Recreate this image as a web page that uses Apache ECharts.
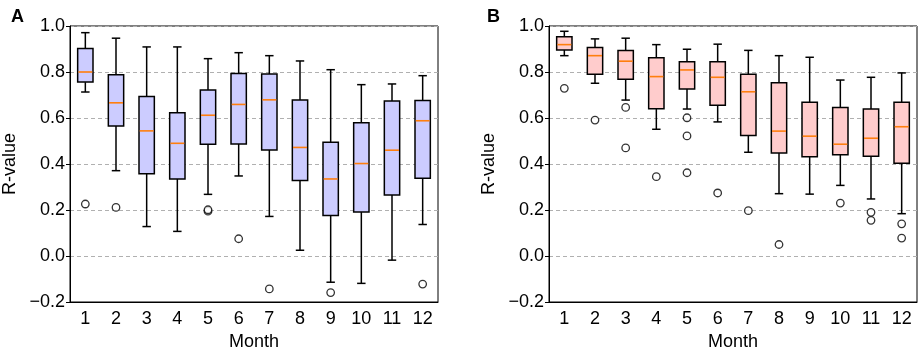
<!DOCTYPE html>
<html>
<head>
<meta charset="utf-8">
<script src="https://cdn.jsdelivr.net/npm/echarts@6/dist/echarts.min.js"></script>
<style>
  html, body { margin: 0; padding: 0; background: #fff; }
  #chart { width: 920px; height: 350px; }
</style>
</head>
<body>
<div id="chart"></div>
<script>
// months on the x axis
const months = ['1', '2', '3', '4', '5', '6', '7', '8', '9', '10', '11', '12'];
const yTicks = [-0.2, 0.0, 0.2, 0.4, 0.6, 0.8, 1.0];

// panel A: [low whisker, Q1, median, Q3, high whisker]
const statsA = [
  [0.713, 0.756, 0.800, 0.902, 0.971],
  [0.371, 0.565, 0.666, 0.788, 0.947],
  [0.128, 0.358, 0.544, 0.694, 0.909],
  [0.107, 0.335, 0.490, 0.623, 0.909],
  [0.268, 0.486, 0.612, 0.722, 0.858],
  [0.348, 0.487, 0.659, 0.793, 0.884],
  [0.172, 0.461, 0.679, 0.791, 0.871],
  [0.025, 0.328, 0.472, 0.678, 0.848],
  [-0.114, 0.176, 0.335, 0.495, 0.810],
  [-0.119, 0.191, 0.402, 0.579, 0.745],
  [-0.018, 0.265, 0.460, 0.674, 0.748],
  [0.137, 0.338, 0.588, 0.676, 0.784]
];
// [month index, value]
const outliersA = [
  [0, 0.226], [1, 0.211], [4, 0.195], [4, 0.201], [5, 0.075],
  [6, -0.143], [8, -0.159], [11, -0.122]
];

// panel B
const statsB = [
  [0.871, 0.896, 0.919, 0.953, 0.977],
  [0.751, 0.790, 0.871, 0.906, 0.944],
  [0.678, 0.768, 0.847, 0.893, 0.947],
  [0.551, 0.640, 0.780, 0.862, 0.919],
  [0.639, 0.726, 0.809, 0.845, 0.899],
  [0.583, 0.655, 0.777, 0.845, 0.921],
  [0.451, 0.524, 0.714, 0.790, 0.894],
  [0.271, 0.448, 0.543, 0.753, 0.871],
  [0.269, 0.431, 0.521, 0.669, 0.864],
  [0.307, 0.440, 0.486, 0.646, 0.765],
  [0.248, 0.434, 0.512, 0.639, 0.777],
  [0.184, 0.403, 0.562, 0.669, 0.796]
];
const outliersB = [
  [0, 0.729], [1, 0.591], [2, 0.646], [2, 0.470], [3, 0.345],
  [4, 0.601], [4, 0.522], [4, 0.362], [5, 0.274], [6, 0.197],
  [7, 0.050], [9, 0.230], [10, 0.190], [10, 0.155], [11, 0.140], [11, 0.078]
];

const FONT = 'Liberation Sans, Arial, sans-serif';
const chart = echarts.init(document.getElementById('chart'), null, { renderer: 'canvas' });

function makeGrid(left) {
  return {
    left: left, top: 26, width: 368, height: 276,
    containLabel: false, outerBoundsMode: 'none',
    show: true, borderColor: '#000', borderWidth: 1, backgroundColor: 'transparent'
  };
}

function makeXAxis(idx) {
  return {
    type: 'category', gridIndex: idx, data: months, boundaryGap: true,
    name: 'Month', nameLocation: 'middle', nameGap: 31,
    nameTextStyle: { color: '#000', fontSize: 18, fontFamily: FONT, verticalAlign: 'top' },
    axisLine: { onZero: false, lineStyle: { color: '#000', width: 1 } },
    axisTick: { alignWithLabel: true, length: 4, lineStyle: { color: '#000' } },
    axisLabel: { color: '#000', fontSize: 18, fontFamily: FONT, margin: 8 },
    splitLine: { show: false }
  };
}

function makeYAxis(idx) {
  return {
    type: 'value', gridIndex: idx, min: -0.2, max: 1.0, interval: 0.2,
    name: 'R-value', nameLocation: 'middle', nameGap: 51, nameRotate: 90,
    nameTextStyle: { color: '#000', fontSize: 18, fontFamily: FONT },
    axisLine: { show: true, onZero: false, lineStyle: { color: '#000', width: 1 } },
    axisTick: { show: true, length: 4, lineStyle: { color: '#000' } },
    axisLabel: {
      color: '#000', fontSize: 18, fontFamily: FONT, margin: 5,
      formatter: v => {
        const s = Math.abs(v).toFixed(1);
        return v < -1e-9 ? '\u2212' + s : s;
      }
    },
    splitLine: { show: true, lineStyle: { color: '#b0b0b0', type: [4, 3], width: 1 } }
  };
}

// box + whiskers + caps + median, matplotlib style
function boxSeries(idx, stats, fill) {
  return {
    type: 'custom', xAxisIndex: idx, yAxisIndex: idx,
    data: stats.map((s, i) => [i].concat(s)),
    encode: { x: 0, y: [1, 2, 3, 4, 5] },
    z: 3,
    renderItem: function (params, api) {
      const i = api.value(0);
      const pLow = api.coord([i, api.value(1)]);
      const pQ1 = api.coord([i, api.value(2)]);
      const pMed = api.coord([i, api.value(3)]);
      const pQ3 = api.coord([i, api.value(4)]);
      const pHigh = api.coord([i, api.value(5)]);
      const bw = api.size([1, 0])[0] * 0.5;
      const cw = bw * 0.55;
      const x = pQ1[0];
      const stroke = { stroke: '#000', lineWidth: 1.5 };
      return {
        type: 'group',
        children: [
          { type: 'line', shape: { x1: x, y1: pQ1[1], x2: x, y2: pLow[1] }, style: stroke },
          { type: 'line', shape: { x1: x, y1: pQ3[1], x2: x, y2: pHigh[1] }, style: stroke },
          { type: 'line', shape: { x1: x - cw / 2, y1: pLow[1], x2: x + cw / 2, y2: pLow[1] }, style: stroke },
          { type: 'line', shape: { x1: x - cw / 2, y1: pHigh[1], x2: x + cw / 2, y2: pHigh[1] }, style: stroke },
          {
            type: 'rect',
            shape: { x: x - bw / 2, y: pQ3[1], width: bw, height: pQ1[1] - pQ3[1] },
            style: { fill: fill, stroke: '#000', lineWidth: 1.5 }
          },
          {
            type: 'line',
            shape: { x1: x - bw / 2 + 0.7, y1: pMed[1], x2: x + bw / 2 - 0.7, y2: pMed[1] },
            style: { stroke: '#ff7f0e', lineWidth: 1.6 }
          }
        ]
      };
    }
  };
}

function outlierSeries(idx, pts) {
  return {
    type: 'scatter', xAxisIndex: idx, yAxisIndex: idx, data: pts,
    symbol: 'circle', symbolSize: 7.5, z: 4,
    itemStyle: { color: '#fff', borderColor: '#000', borderWidth: 1.3 }
  };
}

chart.setOption({
  animation: false,
  backgroundColor: '#fff',
  textStyle: { fontFamily: FONT },
  title: [
    { text: 'A', left: 6, top: 3, textStyle: { fontSize: 18, fontWeight: 'bold', color: '#000', fontFamily: FONT } },
    { text: 'B', left: 482, top: 3, textStyle: { fontSize: 18, fontWeight: 'bold', color: '#000', fontFamily: FONT } }
  ],
  grid: [makeGrid(70), makeGrid(549)],
  xAxis: [makeXAxis(0), makeXAxis(1)],
  yAxis: [makeYAxis(0), makeYAxis(1)],
  series: [
    boxSeries(0, statsA, '#ccccff'),
    outlierSeries(0, outliersA),
    boxSeries(1, statsB, '#ffcccc'),
    outlierSeries(1, outliersB)
  ]
});
</script>
</body>
</html>
